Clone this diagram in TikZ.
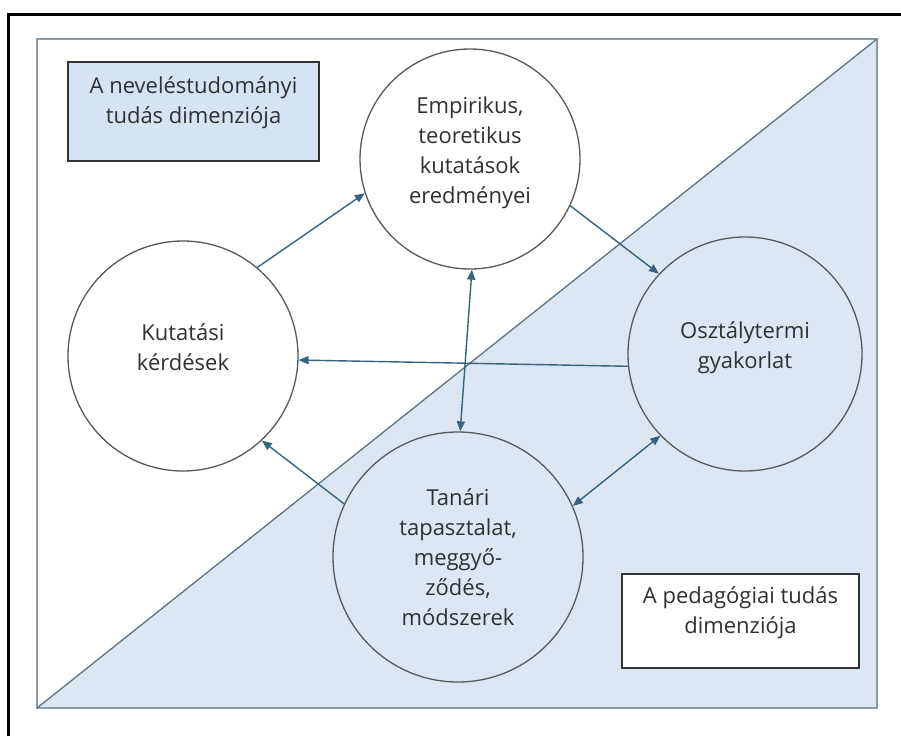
\documentclass[tikz,border=0pt]{standalone}
\usepackage{fontspec}
\setmainfont{Open Sans}
\usetikzlibrary{arrows.meta}
\definecolor{paleblue}{HTML}{DCE7F3}
\definecolor{boxblue}{HTML}{D5E3F3}
\definecolor{framegray}{HTML}{8A99A4}
\definecolor{slashgray}{HTML}{5D7282}
\definecolor{linkblue}{HTML}{36647F}
\definecolor{inkgray}{HTML}{303030}
\newcommand\lowstrut[1]{\rule[-#1]{0pt}{#1}}

\begin{document}
\begin{tikzpicture}
      [x=1pt, y=-1pt,
      every node/.style={font=\fontsize{22}{30}\selectfont, text=inkgray, align=center},
      dim/.style={circle, inner sep=0pt, draw=black!65, line width=1.3pt, minimum size=#1},
      dimbox/.style={rectangle, draw=black!80, line width=1.5pt, inner sep=0pt},
      link/.style={draw=linkblue, line width=1.4pt, -{Triangle[length=10pt,width=8pt]}},
      twoway/.style={{Triangle[length=10pt,width=8pt]}-{Triangle[length=10pt,width=8pt]}},
      ]
      \useasboundingbox (0,0) rectangle (901,736);
      \fill[white] (0,0) rectangle (901,736);
      \draw[line width=3pt] (8,736) -- (8,14) -- (901,14);
      \fill[paleblue] (37,708) -- (877,39) -- (877,708) -- cycle;
      \draw[framegray, line width=2pt] (37,39) rectangle (877,708);
      \draw[slashgray, line width=1.3pt] (37,708) -- (877,39);

      \node[dimbox, fill=boxblue, minimum width=251pt, minimum height=99pt] (nevbox) at (193.5,111.5)
        {A neveléstudományi\\tudás dimenziója\lowstrut{22pt}};
      \node[dimbox, fill=white, minimum width=237pt, minimum height=94pt] (pedbox) at (740.5,621)
        {A pedagógiai tudás\\dimenziója\lowstrut{22pt}};

      \node[dim=220pt, fill=white] (emp) at (470,159)
        {Empirikus,\\teoretikus\\kutatások\\eredményei\lowstrut{18pt}};
      \node[dim=230pt, fill=white] (kut) at (183,356) {Kutatási\\kérdések\lowstrut{18pt}};
      \node[dim=234pt, fill=paleblue] (gyak) at (745,354) {Osztálytermi\\gyakorlat\lowstrut{18pt}};
      \node[dim=250pt, fill=paleblue] (tan) at (458,557)
        {Tanári\\tapasztalat,\\meggyő-\\ződés,\\módszerek};

      \draw[link] (kut.50) -- (emp.198);
      \draw[link] (emp.335) -- (gyak.137);
      \draw[link] (gyak.186) -- (kut.358);
      \draw[link, twoway] (emp.271) -- (tan.89);
      \draw[link] (tan.155) -- (kut.313);
      \draw[link, twoway] (tan.24) -- (gyak.224);
\end{tikzpicture}
\end{document}
